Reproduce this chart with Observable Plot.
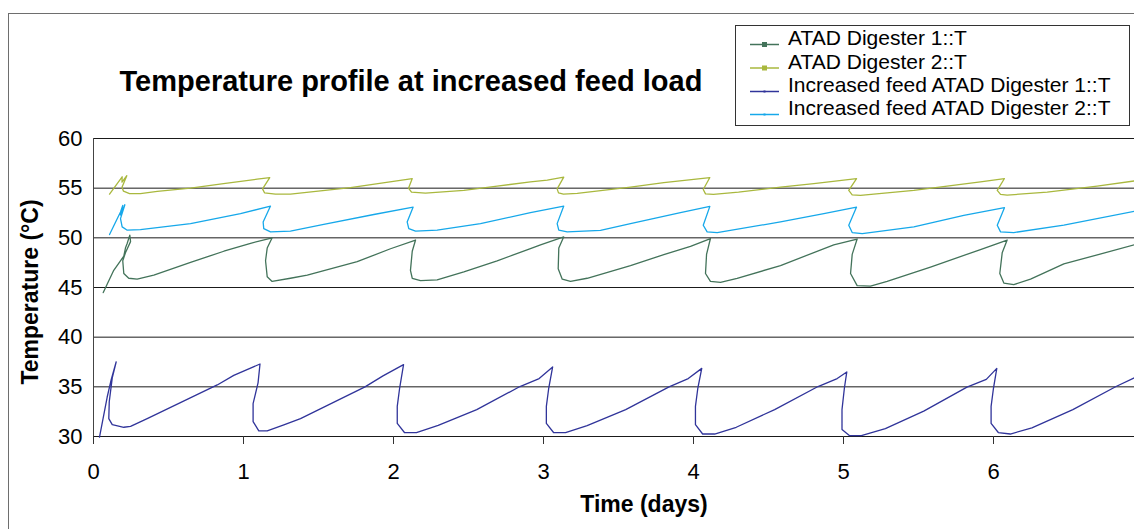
<!DOCTYPE html>
<html><head><meta charset="utf-8">
<script src="https://cdn.jsdelivr.net/npm/d3@7"></script>
<script src="https://cdn.jsdelivr.net/npm/@observablehq/plot@0.6"></script>
<style>
html,body{margin:0;padding:0;background:#fff;}
#wrap{position:relative;width:1134px;height:529px;overflow:hidden;font-family:"Liberation Sans",Arial,sans-serif;background:#fff;}
#chart{position:absolute;left:0;top:0;}
#frame{position:absolute;left:8px;top:13px;width:1400px;height:800px;border:1px solid #6e6e6e;box-sizing:border-box;}
#overlay{position:absolute;left:0;top:0;}
</style></head><body>
<div id="wrap"><div id="chart"></div><div id="frame"></div><svg id="overlay" width="1134" height="529"></svg></div>
<script>
// ---- data ----
const seriesNames = ["ATAD Digester 1::T", "ATAD Digester 2::T", "Increased feed ATAD Digester 1::T", "Increased feed ATAD Digester 2::T"];
const seriesColors = ["#43735a", "#a9b83e", "#30349a", "#16a8ea"];
const xTicks = [0, 1, 2, 3, 4, 5, 6, 7];
const yTicks = [30, 35, 40, 45, 50, 55, 60];

const d1Time = [0.065,0.135,0.202,0.213,0.225,0.242,0.247,0.213,0.195,0.202,0.235,0.291,0.402,0.647,0.869,1.047,1.191,
  1.158,1.147,1.158,1.191,1.313,1.425,1.758,1.98,2.147,
  2.125,2.113,2.125,2.18,2.291,2.469,2.691,2.913,2.98,3.135,
  3.102,3.098,3.125,3.18,3.291,3.58,3.802,3.98,4.113,
  4.087,4.08,4.113,4.18,4.291,4.58,4.935,5.091,
  5.058,5.047,5.091,5.18,5.291,5.58,5.913,6.091,
  6.058,6.042,6.069,6.135,6.247,6.469,6.94];
const d1Temp = [44.49,46.73,48.17,48.97,49.45,50.27,49.62,48.5,47.69,46.41,45.93,45.84,46.25,47.53,48.65,49.45,50.0,
  48.97,47.69,46.09,45.61,45.93,46.25,47.6,48.9,49.78,
  48.65,46.73,45.93,45.7,45.77,46.57,47.69,48.91,49.3,50.1,
  48.97,46.89,45.84,45.61,45.93,47.2,48.3,49.13,49.93,
  48.33,46.41,45.61,45.51,45.93,47.2,49.3,49.88,
  48.33,46.41,45.19,45.13,45.61,47.05,48.82,49.78,
  48.49,46.41,45.45,45.29,45.84,47.37,49.3];

const d2Time = [0.107,0.18,0.191,0.19,0.222,0.19,0.2,0.24,0.313,0.425,0.647,0.867,1.091,1.175,
  1.127,1.14,1.213,1.313,1.713,2.125,
  2.1,2.12,2.213,2.469,2.691,2.913,3.025,3.135,
  3.091,3.1,3.133,3.225,3.58,3.802,4.109,
  4.065,4.08,4.133,4.3,4.58,4.802,5.087,
  5.035,5.058,5.113,5.469,5.691,5.913,6.073,
  6.025,6.047,6.091,6.358,6.691,6.94];
const d2Temp = [54.4,55.9,56.15,55.6,56.25,55.1,54.7,54.45,54.45,54.67,55.0,55.45,55.9,56.07,
  54.93,54.53,54.4,54.4,55.05,55.97,
  55.0,54.6,54.5,54.77,55.21,55.63,55.8,56.11,
  54.93,54.53,54.4,54.47,55.1,55.55,56.07,
  54.87,54.43,54.37,54.6,55.1,55.45,55.97,
  54.77,54.33,54.27,54.77,55.21,55.63,55.97,
  54.77,54.37,54.3,54.6,55.21,55.73];

const f1Time = [0.04,0.091,0.118,0.151,0.125,0.105,0.102,0.125,0.202,0.247,0.358,0.825,0.935,1.11,
  1.097,1.064,1.064,1.102,1.158,1.269,1.38,1.81,1.93,2.067,
  2.041,2.025,2.025,2.073,2.153,2.298,2.555,2.843,2.971,3.061,
  3.035,3.019,3.019,3.067,3.147,3.291,3.548,3.837,3.965,4.055,
  4.029,4.013,4.013,4.061,4.141,4.285,4.541,4.83,4.958,5.022,
  5.006,4.99,4.99,5.039,5.119,5.279,5.535,5.823,5.952,6.022,
  6.0,5.984,5.984,6.032,6.112,6.256,6.529,6.817,6.939];
const f1Temp = [29.94,33.95,35.73,37.5,35.9,33.5,31.8,31.2,30.93,31.02,31.8,35.19,36.15,37.3,
  35.4,33.3,31.5,30.56,30.56,31.17,31.8,35.0,36.1,37.23,
  34.88,33.03,31.32,30.4,30.4,31.11,32.71,35.03,35.83,37.0,
  34.88,33.03,31.32,30.4,30.4,31.1,32.7,35.0,35.83,36.86,
  34.88,33.03,31.2,30.25,30.25,30.93,32.71,35.03,35.83,36.5,
  34.88,32.71,30.71,30.09,30.09,30.8,32.56,34.97,35.75,36.86,
  34.88,33.03,31.32,30.4,30.25,30.86,32.71,35.03,35.9];

const f2Time = [0.107,0.18,0.195,0.18,0.209,0.18,0.191,0.225,0.313,0.647,0.98,1.18,
  1.131,1.135,1.18,1.313,1.535,1.869,2.131,
  2.091,2.102,2.147,2.291,2.58,2.913,3.135,
  3.091,3.102,3.158,3.38,3.58,3.913,4.109,
  4.065,4.091,4.158,4.58,4.869,5.087,
  5.035,5.058,5.125,5.469,5.802,6.073,
  6.025,6.047,6.135,6.469,6.94];
const f2Temp = [50.33,52.6,53.27,52.3,53.33,51.93,51.1,50.77,50.83,51.43,52.43,53.2,
  51.6,50.93,50.6,50.67,51.35,52.35,53.1,
  51.6,50.93,50.67,50.77,51.43,52.53,53.2,
  51.43,50.77,50.6,50.75,51.43,52.53,53.17,
  51.27,50.6,50.53,51.6,52.43,53.1,
  51.27,50.53,50.43,51.1,52.27,53.03,
  51.27,50.6,50.53,51.27,52.67];

const titleText = "Temperature profile at increased feed load";
const xTitle = "Time (days)";
const yTitle = "Temperature (°C)";

// ---- build rows ----
const rows = [];
[[d1Time, d1Temp], [d2Time, d2Temp], [f1Time, f1Temp], [f2Time, f2Temp]].forEach(([ts, vs], i) => {
  ts.forEach((t, j) => rows.push({series: seriesNames[i], t: t, temp: vs[j]}));
});

const chart = Plot.plot({
  width: 1134,
  height: 529,
  marginLeft: 93,
  marginRight: -9,
  marginTop: 138,
  marginBottom: 93,
  style: {fontFamily: "'Liberation Sans', Arial, sans-serif", background: "transparent", color: "#000", overflow: "visible"},
  x: {domain: [0, 7]},
  y: {domain: [30, 60]},
  color: {domain: seriesNames, range: seriesColors},
  marks: [
    Plot.ruleY(yTicks, {stroke: "#1a1a1a", strokeWidth: 1}),
    Plot.ruleX([0], {stroke: "#444", strokeWidth: 1}),
    Plot.line(rows, {x: "t", y: "temp", z: "series", stroke: "series", strokeWidth: 1.3, curve: "linear"}),
    Plot.axisX(xTicks, {tickSize: 8, tickPadding: 19, fontSize: 22, label: null, stroke: "#333", tickFormat: d => String(d)}),
    Plot.axisY(yTicks, {tickSize: 0, tickPadding: 11, fontSize: 22, label: null, tickFormat: d => String(d)})
  ]
});
document.getElementById("chart").appendChild(chart);

// ---- title, axis titles and legend ----
const ov = d3.select("#overlay").style("font-family", "'Liberation Sans', Arial, sans-serif");
ov.append("text").attr("x", 411).attr("y", 90.5).attr("text-anchor", "middle")
  .attr("font-size", 29).attr("font-weight", "bold").attr("fill", "#000").text(titleText);
ov.append("text").attr("x", 644).attr("y", 512).attr("text-anchor", "middle")
  .attr("font-size", 23).attr("font-weight", "bold").attr("fill", "#000").text(xTitle);
ov.append("text").attr("transform", "translate(38,292) rotate(-90)").attr("text-anchor", "middle")
  .attr("font-size", 23).attr("font-weight", "bold").attr("fill", "#000").text(yTitle);

const lg = ov.append("g");
lg.append("rect").attr("x", 735.5).attr("y", 25.5).attr("width", 394).attr("height", 100)
  .attr("fill", "#fff").attr("stroke", "#333").attr("stroke-width", 1);
const rowBase = [45, 68.5, 92, 115];
seriesNames.forEach((name, i) => {
  const yb = rowBase[i] - 0.5;
  lg.append("line").attr("x1", 750).attr("x2", 779).attr("y1", yb).attr("y2", yb)
    .attr("stroke", seriesColors[i]).attr("stroke-width", 1.5);
  const s = i < 2 ? 5 : 2;
  lg.append("rect").attr("x", 764.5 - s / 2).attr("y", yb - s / 2).attr("width", s).attr("height", s)
    .attr("fill", seriesColors[i]);
  lg.append("text").attr("x", 788).attr("y", rowBase[i]).attr("font-size", 21).attr("fill", "#000").text(name);
});
</script>
</body></html>
